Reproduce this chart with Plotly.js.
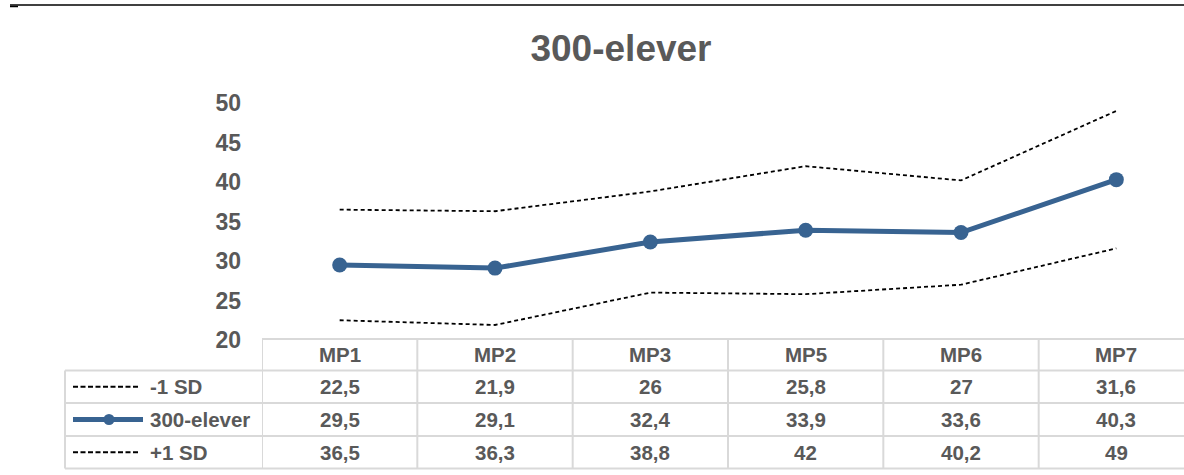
<!DOCTYPE html>
<html>
<head>
<meta charset="utf-8">
<script src="https://cdn.plot.ly/plotly-3.0.1.min.js"></script>
<style>
html,body{margin:0;padding:0;overflow:hidden;background:#fff;}
#chart{width:1200px;height:475px;}
</style>
</head>
<body>
<div id="chart"></div>
<script>
const categories = ["MP1", "MP2", "MP3", "MP5", "MP6", "MP7"];
const minus1SD = [22.5, 21.9, 26, 25.8, 27, 31.6];
const elever300 = [29.5, 29.1, 32.4, 33.9, 33.6, 40.3];
const plus1SD = [36.5, 36.3, 38.8, 42, 40.2, 49];
const seriesNames = ["-1 SD", "300-elever", "+1 SD"];
const chartTitle = "300-elever";

const W = 1200, H = 475;
const L = 262, R = 6, T = 103, B = 135;
const plotH = H - T - B, plotW = W - L - R;
const py = Y => (H - B - Y) / plotH;   // pixel y -> paper y
const px = X => (X - L) / plotW;       // pixel x -> paper x

const grey = "#595959";
const blue = "#386391";
const border = "#d9d9d9";
const fam = "'Liberation Sans', Arial, sans-serif";
const fmt = v => String(v).replace(".", ",");
const tfont = {family: fam, size: 20.5, color: grey, weight: 700};

const traces = [
  {x: categories, y: minus1SD, name: seriesNames[0], type: "scatter", mode: "lines",
   line: {color: "#000", width: 1.8, dash: "4px,3px"}},
  {x: categories, y: elever300, name: seriesNames[1], type: "scatter", mode: "lines+markers",
   line: {color: blue, width: 5}, marker: {color: blue, size: 15}},
  {x: categories, y: plus1SD, name: seriesNames[2], type: "scatter", mode: "lines",
   line: {color: "#000", width: 1.8, dash: "4px,3px"}}
];

// table geometry (pixels)
const rowLines = [339, 370.5, 403, 436, 468.5];
const rowCenters = [354.5, 386.75, 419.5, 452.25];
const shapes = [];
const annotations = [];
const lc = {color: border, width: 2};

shapes.push({type: "line", xref: "paper", yref: "paper", x0: 0, x1: 1.02, y0: py(rowLines[0]), y1: py(rowLines[0]), line: lc});
for (let i = 1; i < rowLines.length; i++) {
  shapes.push({type: "line", xref: "paper", yref: "paper", x0: px(65), x1: 1.02, y0: py(rowLines[i]), y1: py(rowLines[i]), line: lc});
}
for (let k = 0; k <= categories.length; k++) {
  shapes.push({type: "line", xref: "x", yref: "paper", x0: k - 0.5, x1: k - 0.5, y0: py(rowLines[0]), y1: py(rowLines[4]), line: lc});
}
shapes.push({type: "line", xref: "paper", yref: "paper", x0: px(65), x1: px(65), y0: py(rowLines[1]), y1: py(rowLines[4]), line: lc});

categories.forEach((c, i) => {
  annotations.push({x: c, xref: "x", y: py(rowCenters[0]), yref: "paper", text: c, showarrow: false,
    font: tfont, xanchor: "center", yanchor: "middle"});
});
const rows = [minus1SD, elever300, plus1SD];
rows.forEach((arr, r) => {
  arr.forEach((v, i) => {
    annotations.push({x: categories[i], xref: "x", y: py(rowCenters[r + 1]), yref: "paper", text: fmt(v), showarrow: false,
      font: tfont, xanchor: "center", yanchor: "middle"});
  });
  annotations.push({x: px(148), xref: "paper", y: py(rowCenters[r + 1]), yref: "paper", text: seriesNames[r], showarrow: false,
    font: tfont, xanchor: "left", yanchor: "middle"});
});
// legend keys
[1, 3].forEach(r => {
  shapes.push({type: "line", xref: "paper", yref: "paper", x0: px(73), x1: px(140), y0: py(rowCenters[r]), y1: py(rowCenters[r]),
    line: {color: "#000", width: 1.8, dash: "5px,2.5px"}});
});
shapes.push({type: "line", xref: "paper", yref: "paper", x0: px(73), x1: px(143), y0: py(rowCenters[2]), y1: py(rowCenters[2]),
  line: {color: blue, width: 5}});
shapes.push({type: "circle", xref: "paper", yref: "paper", x0: px(103.5), x1: px(114.5), y0: py(rowCenters[2] - 5.5), y1: py(rowCenters[2] + 5.5),
  fillcolor: blue, line: {color: blue, width: 0}});

// top rule
shapes.push({type: "line", xref: "paper", yref: "paper", x0: px(10), x1: 1.02, y0: py(5), y1: py(5), line: {color: "#000", width: 1.6}});
shapes.push({type: "line", xref: "paper", yref: "paper", x0: px(10), x1: px(18), y0: py(6.5), y1: py(6.5), line: {color: "#000", width: 1.5}});

const layout = {
  width: W, height: H,
  margin: {l: L, r: R, t: T, b: B, pad: 0},
  paper_bgcolor: "#fff", plot_bgcolor: "#fff",
  showlegend: false,
  title: {text: chartTitle, x: 621 / W, xanchor: "center", y: 1 - 48 / H, yanchor: "middle",
    font: {family: fam, size: 37, color: grey, weight: 700}},
  xaxis: {type: "category", range: [-0.5, 5.5], showgrid: false, zeroline: false, showline: false,
    showticklabels: false, ticks: "", fixedrange: true},
  yaxis: {range: [20, 50], dtick: 5, tick0: 20, showgrid: false, zeroline: false, showline: false, ticks: "",
    ticklabelstandoff: 20, tickfont: {family: fam, size: 23, color: grey, weight: 700}, fixedrange: true},
  shapes: shapes,
  annotations: annotations
};

Plotly.newPlot("chart", traces, layout, {displayModeBar: false, staticPlot: true});
</script>
</body>
</html>
